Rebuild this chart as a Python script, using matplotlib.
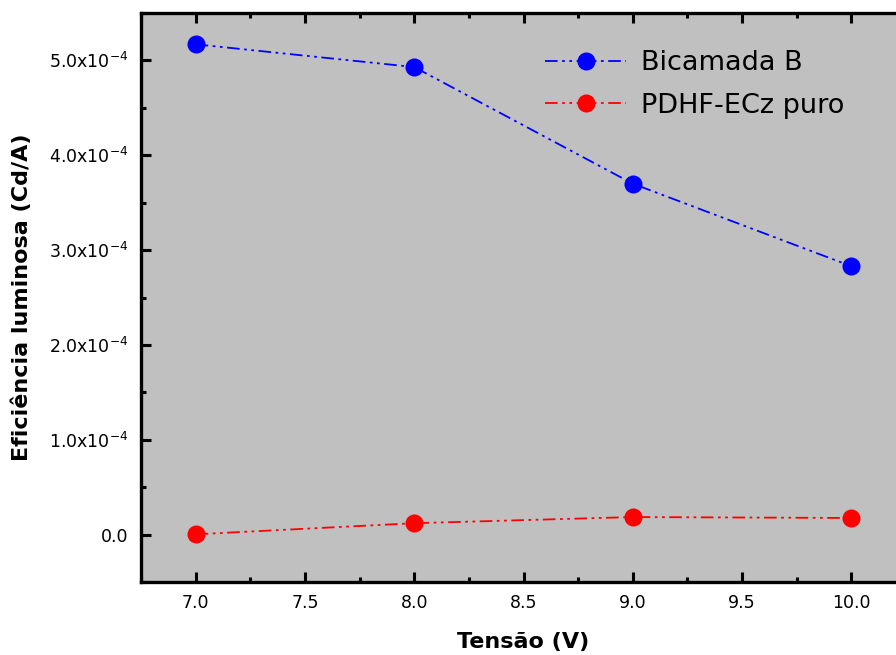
# plot.py
# Eficiencia luminosa vs tensao for the bilayer and the pure PDHF-ECz device

import numpy as np
import matplotlib.pyplot as plt
from matplotlib.ticker import FixedLocator, MultipleLocator

plt.rcParams['font.family'] = 'DejaVu Sans'

# data
tensao = [7.0, 8.0, 9.0, 10.0]
bicamada_b = [5.17e-4, 4.93e-4, 3.70e-4, 2.83e-4]
pdhf_puro = [0.003e-4, 0.12e-4, 0.185e-4, 0.175e-4]

y_ticks = [0.0, 1e-4, 2e-4, 3e-4, 4e-4, 5e-4]
y_labels = ['0.0', r'$1.0\mathrm{x}10^{-4}$', r'$2.0\mathrm{x}10^{-4}$',
            r'$3.0\mathrm{x}10^{-4}$', r'$4.0\mathrm{x}10^{-4}$', r'$5.0\mathrm{x}10^{-4}$']
x_ticks = [7.0, 7.5, 8.0, 8.5, 9.0, 9.5, 10.0]

fig = plt.figure(figsize=(8.96, 6.55), dpi=100)
ax = fig.add_axes([141/896, 73/655, 765/896, 569/655])
ax.set_facecolor('#c0c0c0')

# dash-dot-dot lines like in the original
dashes = (7, 2.5, 1.5, 2.5, 1.5, 2.5)
ax.plot(tensao, bicamada_b, color='#0000ff', linewidth=1.3, dashes=dashes,
        marker='o', markersize=13, markeredgewidth=0, label='Bicamada B')
ax.plot(tensao, pdhf_puro, color='#ff0000', linewidth=1.3, dashes=dashes,
        marker='o', markersize=13, markeredgewidth=0, label='PDHF-ECz puro')

ax.set_xlim(6.75, 10.25)
ax.set_ylim(-0.5e-4, 5.5e-4)

ax.xaxis.set_major_locator(FixedLocator(x_ticks))
ax.xaxis.set_minor_locator(MultipleLocator(0.25))
ax.set_xticklabels(['7.0', '7.5', '8.0', '8.5', '9.0', '9.5', '10.0'])
ax.yaxis.set_major_locator(FixedLocator(y_ticks))
ax.yaxis.set_minor_locator(MultipleLocator(0.5e-4))
ax.set_yticklabels(y_labels)

ax.tick_params(which='both', direction='in', top=True, right=True, width=2.2,
               labelsize=12.5)
ax.tick_params(which='major', length=7, pad=9)
ax.tick_params(which='minor', length=3.5)
for s in ax.spines.values():
    s.set_linewidth(2.4)

ax.set_xlabel('Tensão (V)', fontsize=16, fontweight='bold', labelpad=14)
ax.set_ylabel('Eficiência luminosa (Cd/A)', fontsize=16, fontweight='bold', labelpad=12)

ax.legend(loc='upper left', bbox_to_anchor=(545/896, 1 - 50/655),
          bbox_transform=fig.transFigure, frameon=False, fontsize=19.5,
          handlelength=3.0, handletextpad=0.55, labelspacing=0.62, borderpad=0,
          borderaxespad=0)

fig.savefig('out.png', dpi=100)
